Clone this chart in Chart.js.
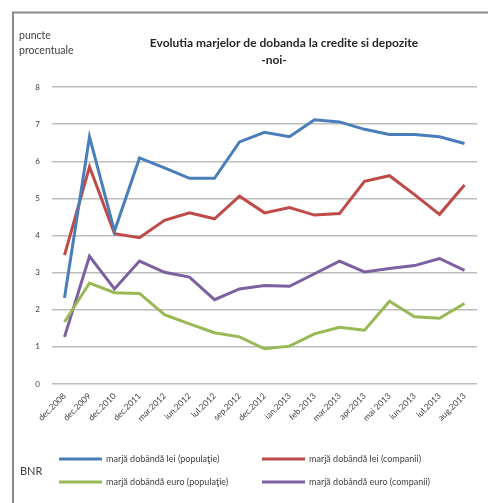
<!DOCTYPE html>
<html>
<head>
<meta charset="utf-8">
<script src="https://cdn.jsdelivr.net/npm/chart.js@4/dist/chart.umd.min.js"></script>
<style>
html,body{margin:0;padding:0;background:#fff;}
#wrap{width:488px;height:503px;position:relative;}
</style>
</head>
<body>
<div id="wrap"><canvas id="c" width="488" height="503"></canvas></div>
<script>
const categories = ["dec.2008","dec.2009","dec.2010","dec.2011","mar.2012","iun.2012","iul.2012","sep.2012","dec.2012","ian.2013","feb.2013","mar.2013","apr.2013","mai 2013","iun.2013","iul.2013","aug.2013"];
const leiPopulatie  = [2.32,6.66,4.12,6.09,5.82,5.54,5.54,6.52,6.78,6.66,7.12,7.06,6.86,6.72,6.72,6.66,6.48];
const leiCompanii   = [3.47,5.85,4.05,3.94,4.41,4.61,4.45,5.06,4.61,4.75,4.55,4.59,5.46,5.61,5.10,4.57,5.36];
const euroPopulatie = [1.67,2.72,2.46,2.44,1.87,1.62,1.38,1.27,0.95,1.02,1.35,1.53,1.45,2.23,1.81,1.77,2.17];
const euroCompanii  = [1.27,3.44,2.56,3.31,3.01,2.88,2.27,2.56,2.65,2.63,2.97,3.31,3.02,3.11,3.19,3.38,3.06];
const yTicks = [0,1,2,3,4,5,6,7,8];
const seriesNames = ["marjă dobândă lei (populaţie)","marjă dobândă lei (companii)","marjă dobândă euro (populaţie)","marjă dobândă euro (companii)"];
const titleLines = ["Evolutia marjelor de dobanda la credite si depozite","-noi-"];
const yAxisTitle = ["puncte","procentuale"];
const sourceText = "BNR";

const colors = ["#4A7EBB","#BE4B48","#98B954","#7D60A0"];
const FONT = "Lato, 'Open Sans', sans-serif";

const decorPlugin = {
  id: 'decor',
  afterDraw(chart) {
    const ctx = chart.ctx;
    ctx.save();
    // frame
    ctx.strokeStyle = '#8a8a8a';
    ctx.lineWidth = 2;
    ctx.beginPath();
    ctx.moveTo(13, 503); ctx.lineTo(13, 12.5); ctx.lineTo(488, 12.5);
    ctx.stroke();
    // title
    ctx.fillStyle = '#262626';
    ctx.textAlign = 'center';
    ctx.textBaseline = 'middle';
    ctx.font = "bold 12px " + FONT;
    ctx.fillText(titleLines[0], 284, 43);
    ctx.fillText(titleLines[1], 274, 60);
    // y axis title
    ctx.textAlign = 'left';
    ctx.font = "10.5px " + FONT;
    ctx.fillStyle = '#404040';
    ctx.fillText(yAxisTitle[0], 19, 36);
    ctx.fillText(yAxisTitle[1], 19, 51);
    // source
    ctx.font = "11px " + FONT;
    ctx.fillText(sourceText, 20, 471);
    // legend
    ctx.font = "9px " + FONT;
    const cols = [59, 262];
    const rows = [459, 482];
    chart.data.datasets.forEach((ds, i) => {
      const x = cols[i % 2], y = rows[Math.floor(i / 2)];
      ctx.strokeStyle = ds.borderColor;
      ctx.lineWidth = 3;
      ctx.beginPath();
      ctx.moveTo(x, y); ctx.lineTo(x + 43, y);
      ctx.stroke();
      ctx.fillStyle = '#404040';
      ctx.fillText(ds.label, x + 47, y);
    });
    ctx.restore();
  }
};

const datasets = [leiPopulatie, leiCompanii, euroPopulatie, euroCompanii].map((d, i) => ({
  label: seriesNames[i],
  data: d,
  borderColor: colors[i],
  backgroundColor: colors[i],
  borderWidth: 3,
  pointRadius: 0,
  tension: 0,
  fill: false
}));

new Chart(document.getElementById('c'), {
  type: 'line',
  data: { labels: categories, datasets },
  options: {
    responsive: false,
    animation: false,
    devicePixelRatio: 1,
    layout: { padding: { top: 87, left: 12, right: 11, bottom: 0 } },
    plugins: { legend: { display: false }, title: { display: false }, tooltip: { enabled: false } },
    scales: {
      x: {
        offset: true,
        grid: { display: false, drawTicks: false },
        border: { display: false },
        ticks: { minRotation: 45, maxRotation: 45, autoSkip: false, padding: 7, color: '#404040', font: { family: FONT, size: 8.5 } },
        afterFit(scale) { scale.height = 119; }
      },
      y: {
        min: 0, max: 8,
        afterBuildTicks(scale) { scale.ticks = yTicks.map(v => ({ value: v })); },
        grid: { color: '#bdbdbd', lineWidth: 1.5, drawTicks: false },
        border: { display: false },
        ticks: { padding: 12, color: '#404040', font: { family: FONT, size: 8 } },
        afterFit(scale) { scale.width = 40; }
      }
    }
  },
  plugins: [decorPlugin]
});
</script>
</body>
</html>
